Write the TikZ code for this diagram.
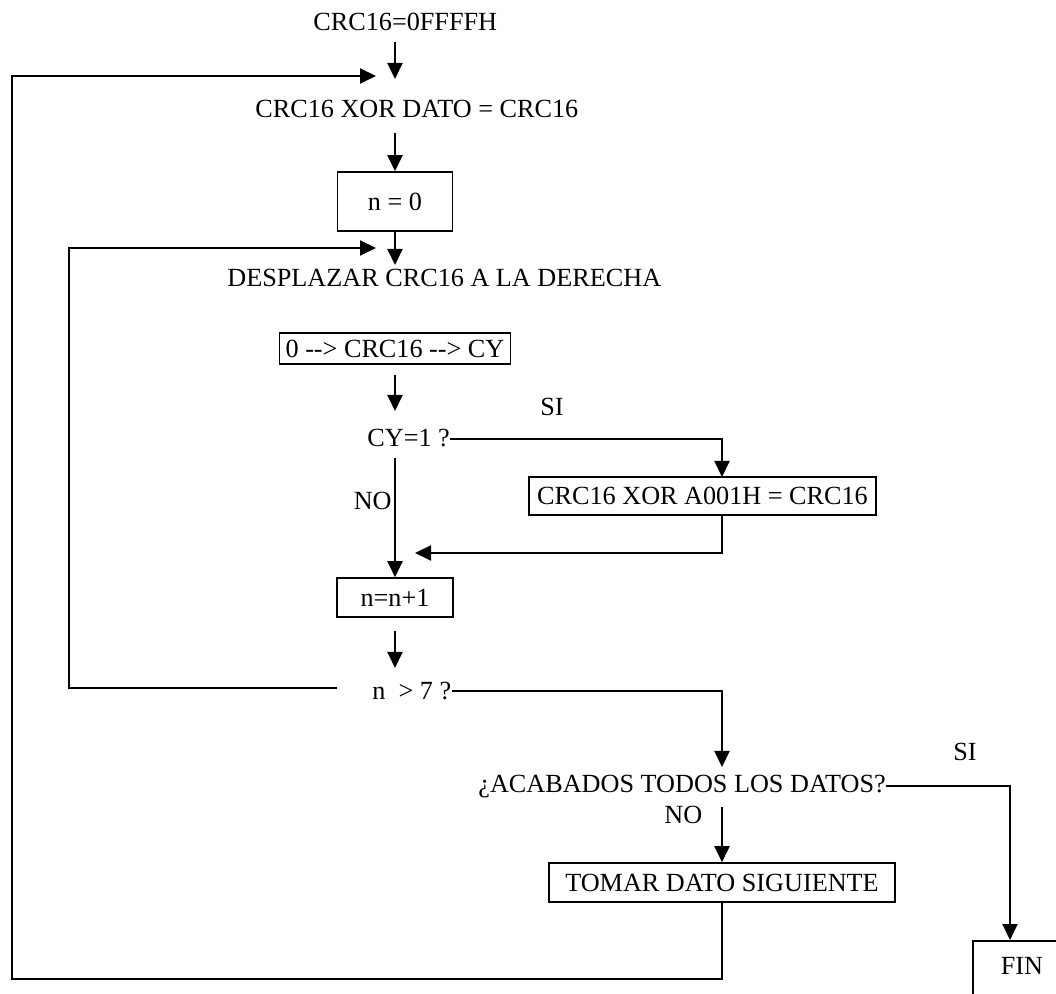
\documentclass[tikz,border=0pt]{standalone}
\usepackage{fontspec}
\setmainfont{Liberation Serif}
\usetikzlibrary{arrows.meta}
\tikzset{
  lbl/.style={inner sep=0pt, anchor=base west},
  caja/.style={draw, line width=0.8pt, inner sep=0pt},
  flecha/.style={line width=1pt, -{Triangle[length=8pt, width=7.5pt]}},
}

\begin{document}
\begin{tikzpicture}[x=0.5pt, y=-0.5pt, font=\fontsize{13.1pt}{15pt}\selectfont]
  \useasboundingbox (0,0) rectangle (1056,994);
  \clip (0,0) rectangle (1056,994);
  \node[lbl] (ini) at (313,31) {CRC16=0FFFFH};
  \node[lbl] (xordato) at (255,118) {CRC16 XOR DATO = CRC16};
  \node[caja, minimum width=57.5pt, minimum height=29.5pt] (ncero) at (395,201.5) {n = 0};
  \node[lbl] (despl) at (227,287) {DESPLAZAR CRC16 A LA DERECHA};
  \node[caja, minimum width=115.5pt, minimum height=15.5pt] (rot) at (395,348.5) {0 -{}-> CRC16 -{}-> CY};
  \node[lbl] (cy) at (367,447) {CY=1 ?};
  \node[lbl] (sicy) at (540,416) {SI};
  \node[caja, minimum width=173.5pt, minimum height=19pt] (xora) at (702.5,496) {CRC16 XOR A001H = CRC16};
  \node[lbl, anchor=base east] (nocy) at (392,510) {NO};
  \node[caja, minimum width=58pt, minimum height=19.5pt] (inc) at (395,597.5) {n=n+1};
  \node[lbl] (mayor) at (372,699) {n~~> 7 ?};
  \node[lbl] (acab) at (478,792) {¿ACABADOS TODOS LOS DATOS?};
  \node[lbl] (noacab) at (664,823) {NO};
  \node[lbl] (siacab) at (953,761) {SI};
  \node[caja, minimum width=173pt, minimum height=19.5pt] (tomar) at (722,882.5) {TOMAR DATO SIGUIENTE};
  \node[caja, anchor=north west, inner xsep=14pt, inner ysep=8.5pt, text depth=20pt] (fin) at (972,940) {FIN};

  \coordinate (f1a) at (395,42);
  \coordinate (f1b) at (395,79);
  \coordinate (f2a) at (395,133);
  \coordinate (f3b) at (395,265);
  \coordinate (f4a) at (395,375);
  \coordinate (f4b) at (395,411);
  \coordinate (f5a) at (395,458);
  \coordinate (f6a) at (395,631);
  \coordinate (f6b) at (395,668);
  \coordinate (si1) at (722,477);
  \coordinate (si2) at (722,515);
  \coordinate (si3) at (415,553);
  \coordinate (m1) at (722,767);
  \coordinate (d1) at (1010,940);
  \coordinate (no1) at (722,807);
  \coordinate (r1) at (337,688);
  \coordinate (r2) at (69,688);
  \coordinate (r3) at (69,248);
  \coordinate (r4) at (376,248);
  \coordinate (s2) at (12,979);
  \coordinate (s3) at (12,76);
  \coordinate (s4) at (376,76);

  \draw[flecha] (f1a) -- (f1b);
  \draw[flecha] (f2a) -- (ncero.north);
  \draw[flecha] (ncero.south) -- (f3b);
  \draw[flecha] (f4a) -- (f4b);
  \draw[flecha] (cy.east) -| (si1);
  \draw[flecha] (si2) |- (si3);
  \draw[flecha] (f5a) -- (inc.north);
  \draw[flecha] (f6a) -- (f6b);
  \draw[flecha] (mayor.east) -| (m1);
  \draw[flecha] (acab.east) -| (d1);
  \draw[flecha] (no1) -- (tomar.north);
  \draw[flecha] (r1) -- (r2) -- (r3) -- (r4);
  \draw[flecha] (tomar.south) |- (s2) -- (s3) -- (s4);
\end{tikzpicture}
\end{document}
